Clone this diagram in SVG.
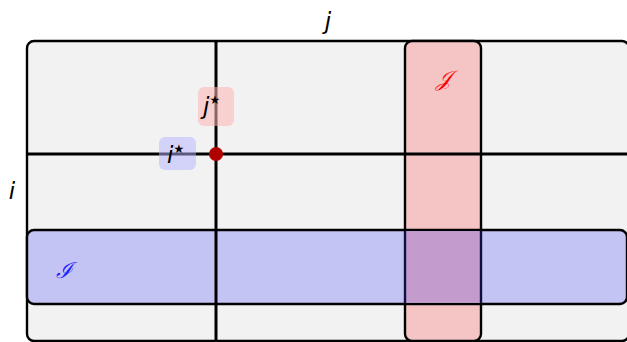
<svg xmlns="http://www.w3.org/2000/svg" width="627" height="342" viewBox="0 0 627 342">
<style>
.b{stroke:#000;stroke-width:2.4}
.ln{stroke:#000;stroke-width:3}
.t{font-family:"DejaVu Sans",sans-serif;font-style:italic;font-size:23px;fill:#000}
.s{font-family:"DejaVu Sans",sans-serif;font-style:normal;font-size:12px}
.c{font-family:"DejaVu Serif","Liberation Serif",serif;font-style:italic;font-size:22px}
</style>
<rect width="627" height="342" fill="#fff"/>
<g id="grid">
<rect x="27" y="41" width="602" height="300" rx="7" fill="#f2f2f2" class="b"/>
</g>
<g id="J">
<rect x="405" y="41" width="76" height="300" rx="7" fill="#f5c4c4" class="b"/>
<text x="443" y="86" class="c" fill="#f00" text-anchor="middle">𝒥</text>
</g>
<g id="I">
<rect x="27" y="230" width="600" height="74" rx="7" fill="#c4c4f4" class="b"/>
<rect x="405" y="231.2" width="76" height="71.6" fill="#c49bcd"/>
<line x1="405" y1="231" x2="405" y2="303" stroke="#101040" stroke-width="2.4"/>
<line x1="481" y1="231" x2="481" y2="303" stroke="#101040" stroke-width="2.4"/>
<text x="64" y="278" class="c" fill="#22f" text-anchor="middle">ℐ</text>
</g>
<g id="connectors">
<line x1="27" y1="154" x2="627" y2="154" class="ln"/>
<line x1="216" y1="41" x2="216" y2="342" class="ln"/>
</g>
<g id="istar">
<rect x="159" y="137" width="37" height="33" rx="6" fill="#b4b4ff" fill-opacity="0.5"/>
<text x="167" y="163" class="t">i<tspan class="s" dy="-10">★</tspan></text>
</g>
<g id="jstar">
<rect x="198" y="87" width="36" height="39" rx="6" fill="#ffb4b4" fill-opacity="0.55"/>
<text x="203" y="114" class="t">j<tspan class="s" dy="-10">★</tspan></text>
</g>
<g id="point">
<circle cx="216" cy="154" r="7" fill="#b00000"/>
</g>
<g id="labels">
<text x="328" y="29" class="t" text-anchor="middle">j</text>
<text x="12" y="199" class="t" text-anchor="middle">i</text>
</g>
</svg>
